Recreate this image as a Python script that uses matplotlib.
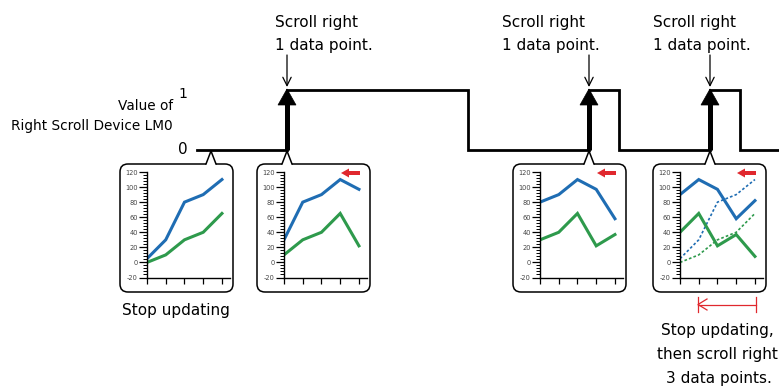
import matplotlib
matplotlib.use("Agg")
import matplotlib.pyplot as plt
from matplotlib.patches import FancyBboxPatch, Polygon
from matplotlib.ticker import MultipleLocator

W, H = 779, 392
plt.rcParams['font.family'] = ['DejaVu Sans']
plt.rcParams['axes.unicode_minus'] = False

# value of the right scroll device LM0 (edge positions in px, level after edge)
wave_t = [197, 287, 468, 589, 619, 710, 740, 779]
wave_lv = [0, 1, 0, 1, 0, 1, 0, 0]
rise_t = [287, 589, 710]
note_x = [275, 502, 653]

# trend graph snapshots, 5 points each
pts = [0, 1, 2, 3, 4]
blue_1 = [5, 30, 80, 90, 110]
green_1 = [0, 10, 30, 40, 65]
blue_2 = [30, 80, 90, 110, 97]
green_2 = [10, 30, 40, 65, 22]
blue_3 = [80, 90, 110, 97, 58]
green_3 = [30, 40, 65, 22, 37]
blue_4 = [90, 110, 97, 58, 82]
green_4 = [40, 65, 22, 37, 8]

panel_left = [120, 257, 513, 653]
panel_ptr = [211, 287, 589, 710]

BLUE = '#1f6db3'
GREEN = '#2e9a4c'
RED = '#e0282e'


def rect(left, top, right, bottom):
    return [left / W, 1 - bottom / H, (right - left) / W, (bottom - top) / H]


fig = plt.figure(figsize=(W / 100, H / 100), dpi=100)

# waveform axes: level 0 at y=150px, level 1 at y=90px
axw = fig.add_axes(rect(0, 90, W, 150))
axw.set_xlim(0, W)
axw.set_ylim(0, 1)
axw.axis('off')
axw.step(wave_t, wave_lv, where='post', color='black', lw=2.0,
         clip_on=False, solid_joinstyle='miter')

# overlay in pixel coordinates
ax = fig.add_axes([0, 0, 1, 1])
ax.set_xlim(0, W)
ax.set_ylim(H, 0)
ax.axis('off')

for x in rise_t:
    ax.plot([x, x], [150, 103], color='black', lw=3.6, solid_capstyle='butt')
    ax.add_patch(Polygon([(x - 9, 105), (x + 9, 105), (x, 89)], closed=True,
                         fc='black', ec='black', lw=0.5))
    ax.annotate('', xy=(x, 87), xytext=(x, 55),
                arrowprops=dict(arrowstyle='->,head_length=0.6,head_width=0.3',
                                color='black', lw=0.9, shrinkA=0, shrinkB=0))

for x in note_x:
    ax.text(x, 27, 'Scroll right', fontsize=11, ha='left', va='baseline')
    ax.text(x, 50, '1 data point.', fontsize=11, ha='left', va='baseline')

ax.text(173, 110, 'Value of', fontsize=9.8, ha='right', va='baseline')
ax.text(173, 130, 'Right Scroll Device LM0', fontsize=9.8, ha='right', va='baseline')
ax.text(183, 98, '1', fontsize=10, ha='center', va='baseline')
ax.text(183, 154, '0', fontsize=11, ha='center', va='baseline')

# callout boxes
for left, p in zip(panel_left, panel_ptr):
    ax.add_patch(FancyBboxPatch((left, 164), 113, 128,
                                boxstyle='round,pad=0,rounding_size=8',
                                fc='white', ec='black', lw=1.1))
    ax.add_patch(Polygon([(p - 5, 166), (p - 5, 164), (p, 151), (p + 5, 164), (p + 5, 166)],
                         closed=True, fc='white', ec='none'))
    ax.plot([p - 5, p, p + 5], [164, 151, 164], color='black', lw=1.1)

# red scroll arrows in panels 2-4
for left in panel_left[1:]:
    x0, x1, y = left + 84, left + 103, 173
    ax.add_patch(Polygon([(x0, y), (x0 + 8, y - 4.5), (x0 + 8, y - 2), (x1, y - 2),
                          (x1, y + 2), (x0 + 8, y + 2), (x0 + 8, y + 4.5)],
                         closed=True, fc=RED, ec='none'))

# dimension arrow under panel 4
ax.plot([698, 698], [297, 312], color=RED, lw=0.9)
ax.plot([756, 756], [297, 312], color=RED, lw=0.9)
ax.plot([698, 756], [304.5, 304.5], color=RED, lw=0.9)
ax.plot([707, 698, 707], [299, 304.5, 310], color=RED, lw=0.9)

ax.text(176, 315, 'Stop updating', fontsize=11, ha='center', va='baseline')
ax.text(717, 335, 'Stop updating,', fontsize=11, ha='center', va='baseline')
ax.text(717, 359, 'then scroll right', fontsize=11, ha='center', va='baseline')
ax.text(719, 383, '3 data points.', fontsize=11, ha='center', va='baseline')

series = [(blue_1, green_1), (blue_2, green_2), (blue_3, green_3), (blue_4, green_4)]
for i, (left, (b, g)) in enumerate(zip(panel_left, series)):
    a = fig.add_axes(rect(left + 27, 172, left + 110, 277.5))
    a.patch.set_visible(False)
    a.set_xlim(0, 4.43)
    a.set_ylim(-20, 120)
    for s in ('top', 'right'):
        a.spines[s].set_visible(False)
    for s in ('left', 'bottom'):
        a.spines[s].set_linewidth(1.0)
    a.set_xticks(pts)
    a.set_xticklabels([])
    a.yaxis.set_major_locator(MultipleLocator(20))
    a.yaxis.set_minor_locator(MultipleLocator(4))
    a.tick_params(axis='x', direction='out', length=4.5, width=0.9)
    a.tick_params(axis='y', which='major', direction='out', length=5.5, width=0.9,
                  labelsize=4.8, labelcolor='#444444', pad=1.2)
    a.tick_params(axis='y', which='minor', direction='out', length=3, width=0.7)
    if i == 3:
        a.plot(pts, blue_1, color=BLUE, lw=1.2, ls=(0, (1.6, 1.3)))
        a.plot(pts, green_1, color=GREEN, lw=1.2, ls=(0, (1.6, 1.3)))
    a.plot(pts, b, color=BLUE, lw=2.2, solid_joinstyle='miter')
    a.plot(pts, g, color=GREEN, lw=2.2, solid_joinstyle='miter')

fig.savefig('out.png', dpi=100, facecolor='white')
